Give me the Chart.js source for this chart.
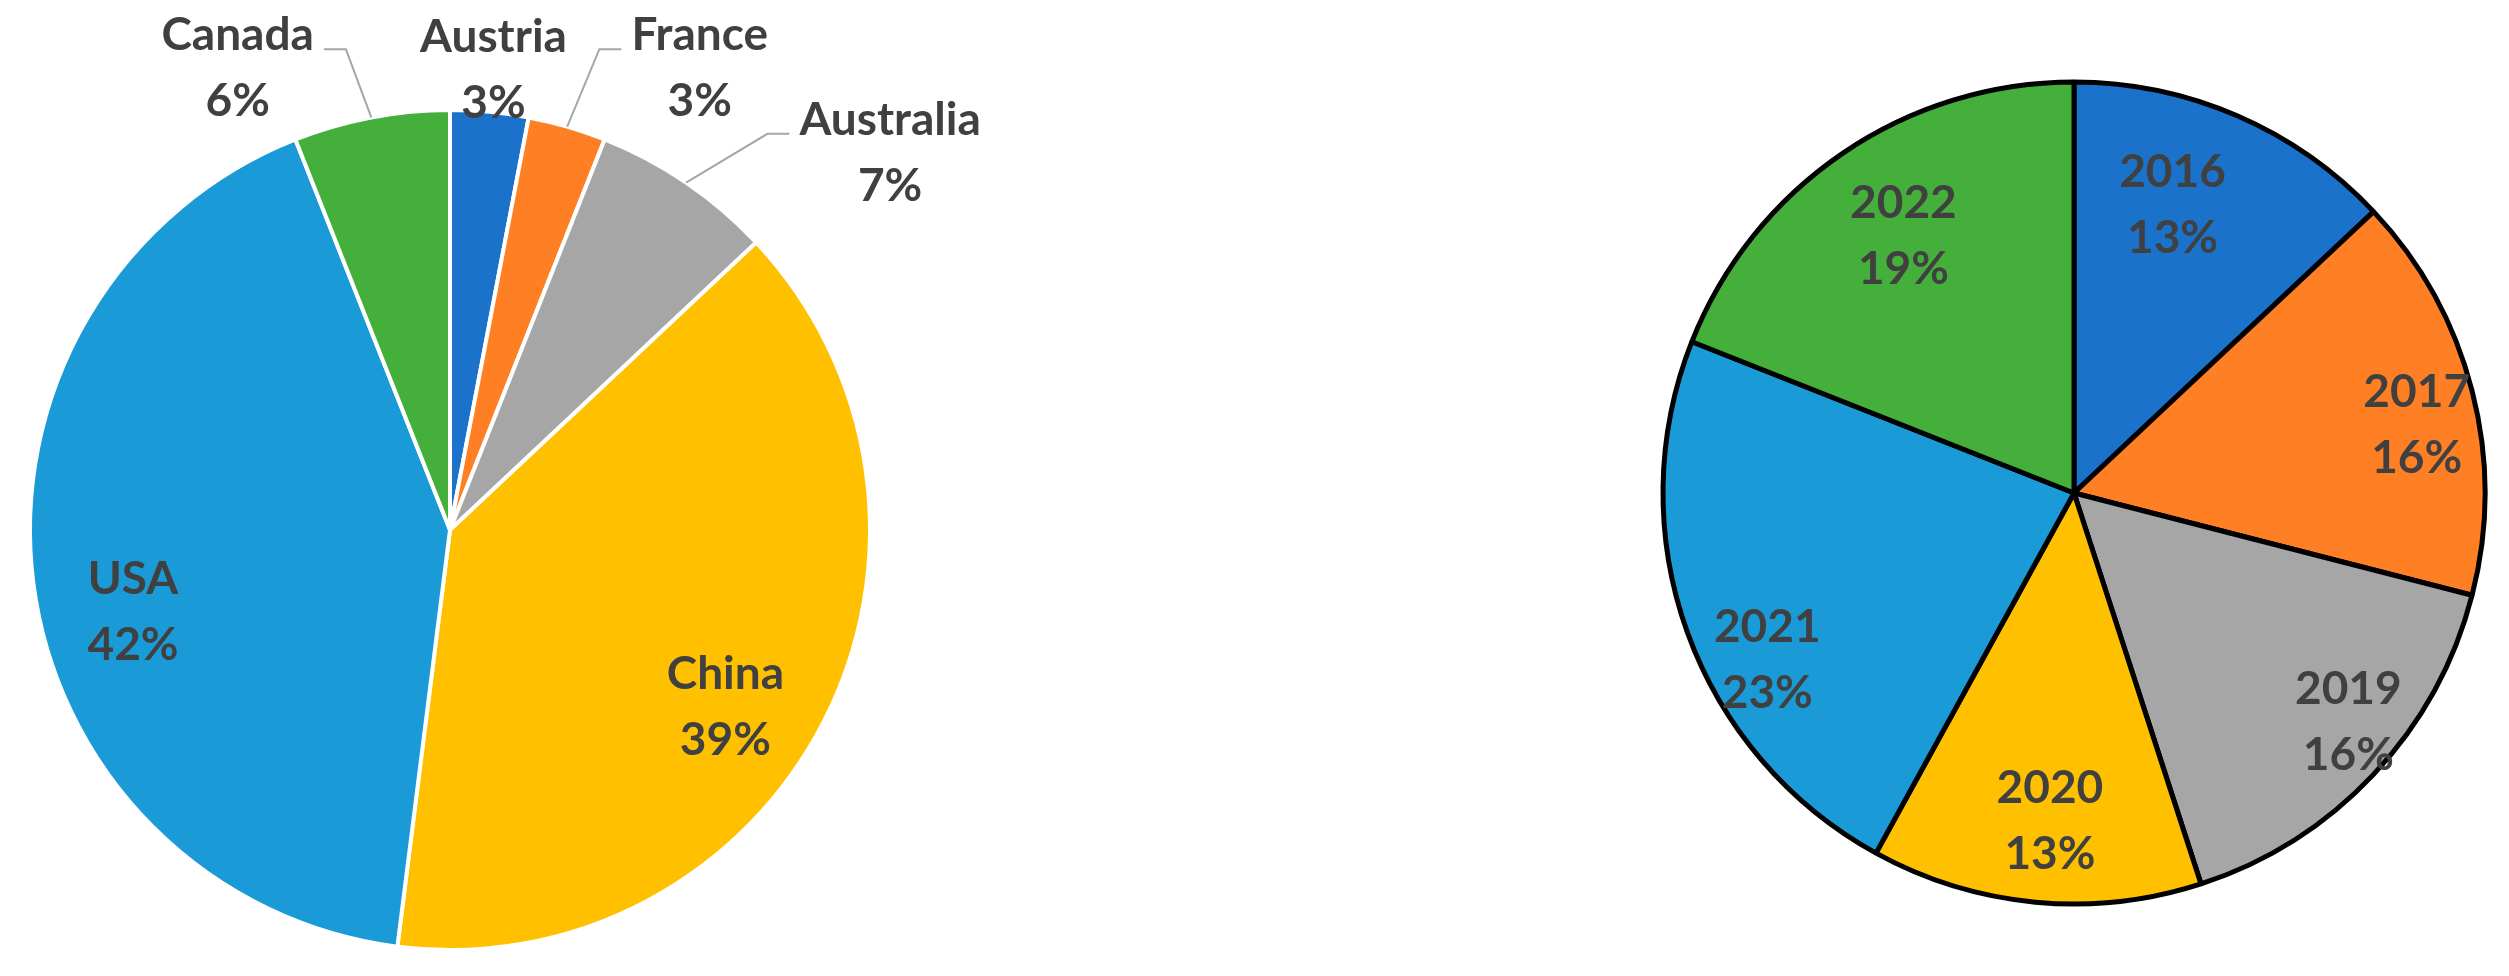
<!DOCTYPE html>
<html lang="en">
    <head>
        <meta charset="UTF-8" />
        <title>Share by Country and Year</title>
        <script src="https://cdn.jsdelivr.net/npm/chart.js"></script>
        <style>
            html,
            body {
                margin: 0;
                padding: 0;
                background: #ffffff;
                width: 2509px;
                height: 976px;
                overflow: hidden;
            }
            .box {
                position: absolute;
                top: 0;
                height: 976px;
            }
        </style>
    </head>
    <body>
        <div class="box" style="left: 0; width: 1000px">
            <canvas id="countryChart"></canvas>
        </div>
        <div class="box" style="left: 1659px; width: 840px">
            <canvas id="yearChart"></canvas>
        </div>

        <script>
            // data (clockwise from 12 o'clock)
            const countries = ["Austria", "France", "Australia", "China", "USA", "Canada"]
            const countryShare = [3, 3, 7, 39, 42, 6]
            const countryColors = ["#1b72ca", "#ff7f24", "#a6a6a6", "#ffc000", "#1a9bd7", "#44af3a"]

            const years = ["2016", "2017", "2019", "2020", "2021", "2022"]
            const yearShare = [13, 16, 16, 13, 23, 19]
            const yearColors = ["#1b72ca", "#ff7f24", "#a6a6a6", "#ffc000", "#1a9bd7", "#44af3a"]

            // label placement: k = distance / radius, nudge = degrees off the slice middle
            const countryLabelLayout = [
                { k: 1.1, nudge: 0 },
                { k: 1.25, nudge: 12.2, leader: true },
                { k: 1.38, nudge: 15.2, leader: true },
                { k: 0.78, nudge: 5.8 },
                { k: 0.78, nudge: -7.4 },
                { k: 1.21, nudge: -13.9, leader: true },
            ]
            const yearLabelLayout = [
                { k: 0.74, nudge: -4.5 },
                { k: 0.85, nudge: 3.2 },
                { k: 0.87, nudge: -3.3 },
                { k: 0.8, nudge: -1.2 },
                { k: 0.85, nudge: -8.8 },
                { k: 0.75, nudge: 0.6 },
            ]

            const FONT = "bold 46px Lato"
            const LINE = 66

            // draws "name / xx%" labels, with leader lines for the ones outside
            const sliceLabels = {
                id: "sliceLabels",
                afterDatasetsDraw(chart, args, opts) {
                    const ctx = chart.ctx
                    const meta = chart.getDatasetMeta(0)
                    const values = chart.data.datasets[0].data
                    ctx.save()
                    ctx.font = FONT
                    ctx.textAlign = "center"
                    ctx.textBaseline = "middle"
                    meta.data.forEach((arc, i) => {
                        const p = arc.getProps(["x", "y", "startAngle", "endAngle", "outerRadius"], true)
                        const lay = opts.layout[i]
                        const mid = (p.startAngle + p.endAngle) / 2
                        const a = mid + (lay.nudge * Math.PI) / 180
                        const cx = p.x + Math.cos(a) * p.outerRadius * lay.k
                        const cy = p.y + Math.sin(a) * p.outerRadius * lay.k
                        const name = chart.data.labels[i]
                        const nameY = cy - LINE / 2
                        if (lay.leader) {
                            const ex = p.x + Math.cos(mid) * p.outerRadius
                            const ey = p.y + Math.sin(mid) * p.outerRadius
                            const half = ctx.measureText(name).width / 2
                            const side = ex > cx ? 1 : -1
                            const sx = cx + side * (half + 10)
                            const ly = nameY + 14
                            ctx.strokeStyle = "#a6a6a6"
                            ctx.lineWidth = 2
                            ctx.beginPath()
                            ctx.moveTo(sx, ly)
                            ctx.lineTo(sx + side * 22, ly)
                            ctx.lineTo(ex, ey)
                            ctx.stroke()
                        }
                        ctx.fillStyle = "#404040"
                        ctx.fillText(name, cx, nameY)
                        ctx.fillText(values[i] + "%", cx, cy + LINE / 2)
                    })
                    ctx.restore()
                },
            }

            Chart.register(sliceLabels)

            new Chart(document.getElementById("countryChart"), {
                type: "pie",
                data: {
                    labels: countries,
                    datasets: [
                        {
                            data: countryShare,
                            backgroundColor: countryColors,
                            borderColor: "#ffffff",
                            borderWidth: 4,
                        },
                    ],
                },
                options: {
                    responsive: true,
                    maintainAspectRatio: false,
                    animation: false,
                    radius: 420,
                    layout: { padding: { top: 84, right: 100 } },
                    plugins: {
                        legend: { display: false },
                        tooltip: { enabled: false },
                        sliceLabels: { layout: countryLabelLayout },
                    },
                },
            })

            new Chart(document.getElementById("yearChart"), {
                type: "pie",
                data: {
                    labels: years,
                    datasets: [
                        {
                            data: yearShare,
                            backgroundColor: yearColors,
                            borderColor: "#000000",
                            borderWidth: 5,
                        },
                    ],
                },
                options: {
                    responsive: true,
                    maintainAspectRatio: false,
                    animation: false,
                    radius: 411,
                    layout: { padding: { top: 10, right: 10 } },
                    plugins: {
                        legend: { display: false },
                        tooltip: { enabled: false },
                        sliceLabels: { layout: yearLabelLayout },
                    },
                },
            })
        </script>
    </body>
</html>
